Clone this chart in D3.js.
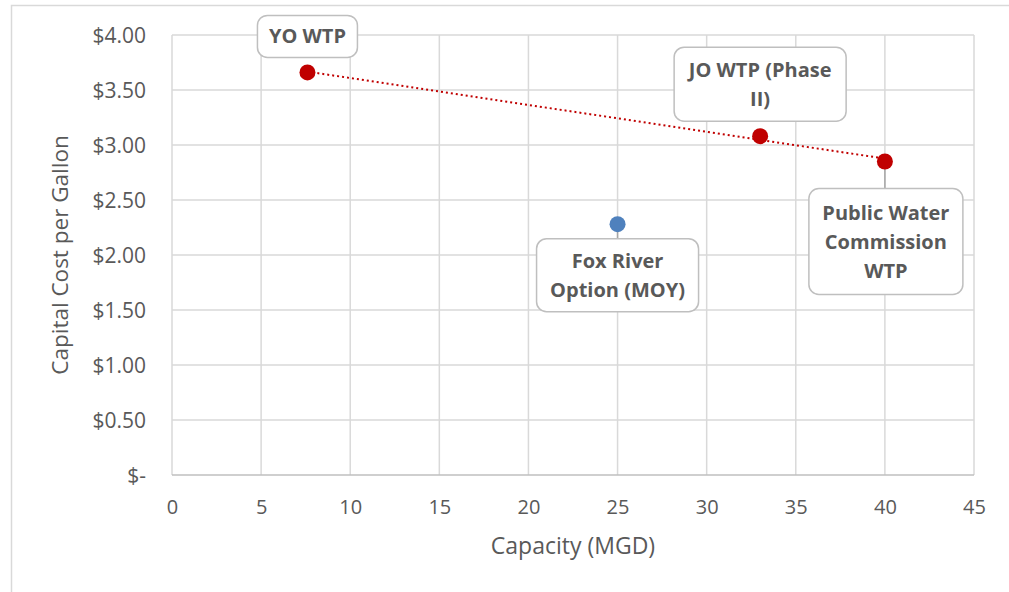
<!DOCTYPE html>
<html>
<head>
<meta charset="utf-8">
<script src="https://cdn.jsdelivr.net/npm/d3@7"></script>
<style>
  body { margin: 0; background: #fff; }
  text { font-family: "Open Sans", "Noto Sans", sans-serif; }
</style>
</head>
<body>
<svg id="chart" width="1009" height="592"></svg>
<script>
// data
const names = ["YO WTP", "JO WTP (Phase II)", "Fox River Option (MOY)", "Public Water Commission WTP"];
const capacity = [7.6, 33, 25, 40];
const costPerGallon = [3.66, 3.08, 2.28, 2.85];
const pointColor = ["#c00000", "#c00000", "#4f81bd", "#c00000"];
const inTrend = [true, true, false, true];
const labelLines = [["YO WTP"], ["JO WTP (Phase", "II)"], ["Fox River", "Option (MOY)"], ["Public Water", "Commission", "WTP"]];
const xTicks = [0, 5, 10, 15, 20, 25, 30, 35, 40, 45];
const yTicks = [0, 0.5, 1, 1.5, 2, 2.5, 3, 3.5, 4];

const W = 1009, H = 592;
const m = { left: 172, right: 974, top: 35, bottom: 475 };
const svg = d3.select('#chart');

// outer chart frame
svg.append('rect')
  .attr('x', 11.5).attr('y', 5.5).attr('width', W + 10).attr('height', H + 10)
  .attr('fill', 'none').attr('stroke', '#d9d9d9').attr('stroke-width', 1.5);

const x = d3.scaleLinear().domain([0, 45]).range([m.left, m.right]);
const y = d3.scaleLinear().domain([0, 4]).range([m.bottom, m.top]);

// gridlines
const grid = svg.append('g');
grid.selectAll('line.v').data(xTicks).join('line')
  .attr('class', 'v')
  .attr('x1', d => x(d)).attr('x2', d => x(d))
  .attr('y1', m.top).attr('y2', m.bottom)
  .attr('stroke', '#d9d9d9').attr('stroke-width', 1.5);
grid.selectAll('line.h').data(yTicks.filter(d => d > 0)).join('line')
  .attr('class', 'h')
  .attr('x1', m.left).attr('x2', m.right)
  .attr('y1', d => y(d)).attr('y2', d => y(d))
  .attr('stroke', '#d9d9d9').attr('stroke-width', 1.5);
// bottom axis line
svg.append('line')
  .attr('x1', m.left).attr('x2', m.right)
  .attr('y1', y(0)).attr('y2', y(0))
  .attr('stroke', '#bfbfbf').attr('stroke-width', 1.5);

// axis labels via d3 axes, no domain/ticks lines
const fmt = d => d === 0 ? '$-' : '$' + d.toFixed(2);
const yAxis = svg.append('g')
  .attr('transform', `translate(${m.left - 26},0)`)
  .call(d3.axisLeft(y).tickValues(yTicks).tickFormat(fmt).tickSize(0).tickPadding(0));
yAxis.select('.domain').remove();
yAxis.selectAll('text').attr('fill', '#595959').attr('font-size', 21).attr('dy', '0.35em')
  .attr('font-family', '"Open Sans", sans-serif');

const xAxis = svg.append('g')
  .attr('transform', `translate(0,${m.bottom + 32})`)
  .call(d3.axisBottom(x).tickValues(xTicks).tickSize(0).tickPadding(0));
xAxis.select('.domain').remove();
xAxis.selectAll('text').attr('fill', '#595959').attr('font-size', 20).attr('dy', '0.35em')
  .attr('font-family', '"Open Sans", sans-serif');

svg.append('text')
  .attr('x', (m.left + m.right) / 2).attr('y', 546)
  .attr('text-anchor', 'middle').attr('dy', '0.35em')
  .attr('fill', '#595959').attr('font-size', 23)
  .text('Capacity (MGD)');
svg.append('text')
  .attr('transform', 'translate(60,255) rotate(-90)')
  .attr('text-anchor', 'middle').attr('dy', '0.35em')
  .attr('fill', '#595959').attr('font-size', 22.5)
  .text('Capital Cost per Gallon');

// linear trendline through red series
const tx = capacity.filter((d, i) => inTrend[i]);
const ty = costPerGallon.filter((d, i) => inTrend[i]);
const mx = d3.mean(tx), my = d3.mean(ty);
const slope = d3.sum(tx, (d, i) => (d - mx) * (ty[i] - my)) / d3.sum(tx, d => (d - mx) * (d - mx));
const icpt = my - slope * mx;
const [x0, x1] = d3.extent(tx);
svg.append('line')
  .attr('x1', x(x0)).attr('y1', y(icpt + slope * x0))
  .attr('x2', x(x1)).attr('y2', y(icpt + slope * x1))
  .attr('stroke', '#c00000').attr('stroke-width', 2)
  .attr('stroke-dasharray', '2,3');

// label callouts: box offset from point (px), box size
const boxes = [
  { dx: 0, dy: -36, w: 100, h: 42 },
  { dx: 0, dy: -52, w: 172, h: 74 },
  { dx: 0, dy: 51, w: 162, h: 73 },
  { dx: 1, dy: 80, w: 154, h: 106 }
];
const pts = names.map((n, i) => ({ name: n, cx: x(capacity[i]), cy: y(costPerGallon[i]), color: pointColor[i], lines: labelLines[i], b: boxes[i] }));

// leader line for PWC label
pts.forEach(p => {
  const top = p.cy + p.b.dy - p.b.h / 2;
  if (p.b.dy > 0 && top - p.cy > 12) {
    svg.append('line')
      .attr('x1', p.cx).attr('x2', p.cx)
      .attr('y1', p.cy).attr('y2', top)
      .attr('stroke', '#a6a6a6').attr('stroke-width', 1.5);
  }
});

svg.selectAll('circle.pt').data(pts).join('circle')
  .attr('class', 'pt')
  .attr('cx', d => d.cx).attr('cy', d => d.cy).attr('r', 8)
  .attr('fill', d => d.color);

const lab = svg.selectAll('g.lab').data(pts).join('g')
  .attr('class', 'lab')
  .attr('transform', d => `translate(${d.cx + d.b.dx},${d.cy + d.b.dy})`);
lab.append('rect')
  .attr('x', d => -d.b.w / 2).attr('y', d => -d.b.h / 2)
  .attr('width', d => d.b.w).attr('height', d => d.b.h)
  .attr('rx', 10).attr('fill', '#fff')
  .attr('stroke', '#bfbfbf').attr('stroke-width', 1.5);
lab.each(function (d) {
  const g = d3.select(this);
  const lh = 29;
  d.lines.forEach((t, k) => {
    g.append('text')
      .attr('x', 0).attr('y', (k - (d.lines.length - 1) / 2) * lh)
      .attr('dy', '0.35em').attr('text-anchor', 'middle')
      .attr('fill', '#595959').attr('font-size', 20).attr('font-weight', 'bold')
      .text(t);
  });
});
</script>
</body>
</html>
